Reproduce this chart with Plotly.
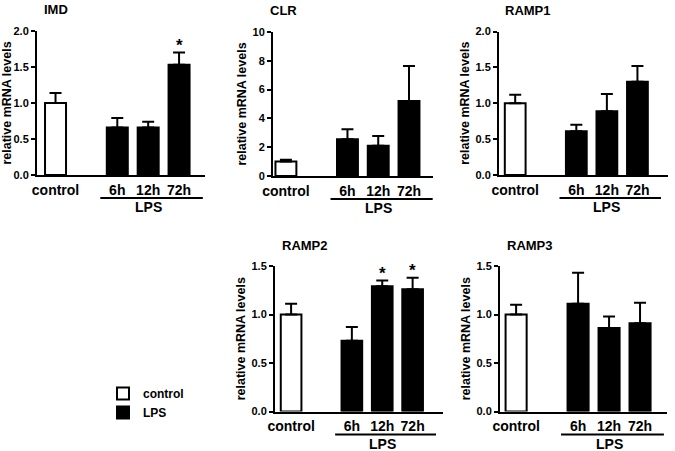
import plotly.graph_objects as go

W, H = 675, 451
FONT = "Liberation Sans, Arial, sans-serif"
NARROW = "Liberation Sans Narrow, Arial Narrow, Liberation Sans, sans-serif"

groups = ["control", "6h", "12h", "72h"]
spacer = " "  # empty slot between control and the LPS bars

imd_mean = [1.00, 0.66, 0.66, 1.53]
imd_sem = [0.14, 0.13, 0.08, 0.17]
imd_sig = [False, False, False, True]

clr_mean = [1.0, 2.55, 2.1, 5.2]
clr_sem = [0.12, 0.69, 0.68, 2.44]
clr_sig = [False, False, False, False]

ramp1_mean = [1.0, 0.61, 0.89, 1.30]
ramp1_sem = [0.12, 0.09, 0.24, 0.22]
ramp1_sig = [False, False, False, False]

ramp2_mean = [1.0, 0.73, 1.29, 1.26]
ramp2_sem = [0.11, 0.14, 0.06, 0.12]
ramp2_sig = [False, False, True, True]

ramp3_mean = [1.0, 1.11, 0.86, 0.91]
ramp3_sem = [0.10, 0.32, 0.12, 0.21]
ramp3_sig = [False, False, False, False]

# panel placement in pixels: left, right, top, bottom
panels = [
    dict(name="IMD", mean=imd_mean, sem=imd_sem, sig=imd_sig, tfont=FONT,
         box=(37, 205, 31, 175), xr=[-0.6, 4.84], yr=[0, 2], dtick=0.5, fmt=".1f", tdx=5),
    dict(name="CLR", mean=clr_mean, sem=clr_sem, sig=clr_sig, tfont=FONT,
         box=(273, 433, 32, 176), xr=[-0.42, 4.78], yr=[0, 10], dtick=2, fmt="d", tdx=-5),
    dict(name="RAMP1", mean=ramp1_mean, sem=ramp1_sem, sig=ramp1_sig, tfont=NARROW,
         box=(499, 668, 31.5, 175), xr=[-0.53, 5.0], yr=[0, 2], dtick=0.5, fmt=".1f", tdx=4),
    dict(name="RAMP2", mean=ramp2_mean, sem=ramp2_sem, sig=ramp2_sig, tfont=NARROW,
         box=(275, 443, 266, 411.5), xr=[-0.53, 5.0], yr=[0, 1.5], dtick=0.5, fmt=".1f", tdx=5),
    dict(name="RAMP3", mean=ramp3_mean, sem=ramp3_sem, sig=ramp3_sig, tfont=NARROW,
         box=(500, 667, 266, 411.5), xr=[-0.52, 4.87], yr=[0, 1.5], dtick=0.5, fmt=".1f", tdx=5),
]

fig = go.Figure()
layout = {}
annotations = []
shapes = []

for i, p in enumerate(panels):
    n = "" if i == 0 else str(i + 1)
    xa, ya = "x" + n, "y" + n
    l, r, t, b = p["box"]

    # control bar (white) and LPS bars (black)
    fig.add_trace(go.Bar(x=groups[:1], y=p["mean"][:1], name="control",
                         xaxis=xa, yaxis=ya, width=0.68, showlegend=(i == 0),
                         marker=dict(color="white", line=dict(color="black", width=2)),
                         error_y=dict(type="data", symmetric=False, array=p["sem"][:1],
                                      arrayminus=[0], color="black", thickness=2, width=6)))
    fig.add_trace(go.Bar(x=groups[1:], y=p["mean"][1:], name="LPS",
                         xaxis=xa, yaxis=ya, width=0.68, showlegend=(i == 0),
                         marker=dict(color="black", line=dict(color="black", width=2)),
                         error_y=dict(type="data", symmetric=False, array=p["sem"][1:],
                                      arrayminus=[0] * 3, color="black", thickness=2, width=6)))

    layout["xaxis" + n] = dict(
        domain=[l / W, r / W], anchor=ya, type="category", automargin=False,
        categoryorder="array", categoryarray=[groups[0], spacer] + groups[1:],
        range=p["xr"], showline=True, linecolor="black", linewidth=2,
        ticks="", ticklabelstandoff=1, showgrid=False, zeroline=False,
        tickfont=dict(family=FONT, size=14, color="black", weight="bold"))
    layout["yaxis" + n] = dict(
        domain=[1 - b / H, 1 - t / H], anchor=xa, range=p["yr"], dtick=p["dtick"],
        tick0=0, tickformat=p["fmt"], showline=True, linecolor="black", linewidth=2,
        ticks="outside", ticklen=4, tickwidth=2, tickcolor="black", automargin=False,
        showgrid=False, zeroline=False,
        tickfont=dict(family=FONT, size=11, color="black", weight="bold"),
        title=dict(text="relative mRNA levels", standoff=3,
                   font=dict(family=FONT, size=12.5, color="black", weight="bold")))

    annotations.append(dict(text=p["name"], xref=xa + " domain", yref=ya + " domain",
                            x=0, y=1, xanchor="left", yanchor="middle",
                            xshift=p["tdx"], yshift=21, showarrow=False,
                            font=dict(family=p["tfont"], size=13, color="black", weight="bold")))

    for g, m, s, sig in zip(groups, p["mean"], p["sem"], p["sig"]):
        if sig:
            annotations.append(dict(text="*", xref=xa, yref=ya, x=g, y=m + s,
                                    xanchor="center", yanchor="bottom", yshift=-4,
                                    showarrow=False,
                                    font=dict(family=FONT, size=17, color="black", weight="bold")))

    shapes.append(dict(type="line", xref=xa, yref=ya + " domain", x0=1.45, x1=4.77,
                       ysizemode="pixel", yanchor=0, y0=-23, y1=-23,
                       line=dict(color="black", width=2)))
    annotations.append(dict(text="LPS", xref=xa, yref=ya + " domain", x=groups[2], y=0,
                            xanchor="center", yanchor="middle", yshift=-32, showarrow=False,
                            font=dict(family=FONT, size=14, color="black", weight="bold")))

fig.update_layout(**layout)
fig.update_layout(
    width=W, height=H, margin=dict(l=0, r=0, t=0, b=0),
    paper_bgcolor="white", plot_bgcolor="white", barmode="overlay",
    annotations=annotations, shapes=shapes,
    legend=dict(x=103 / W, y=1 - 379 / H, xanchor="left", yanchor="top",
                bgcolor="rgba(0,0,0,0)", tracegroupgap=0,
                font=dict(family=FONT, size=12, color="black", weight="bold")),
)

# the page body has a default 8px margin; drop it so the figure sits at 0,0
fig.write_html("out.html", config={"displayModeBar": False},
               post_script="document.body.style.margin='0';")
